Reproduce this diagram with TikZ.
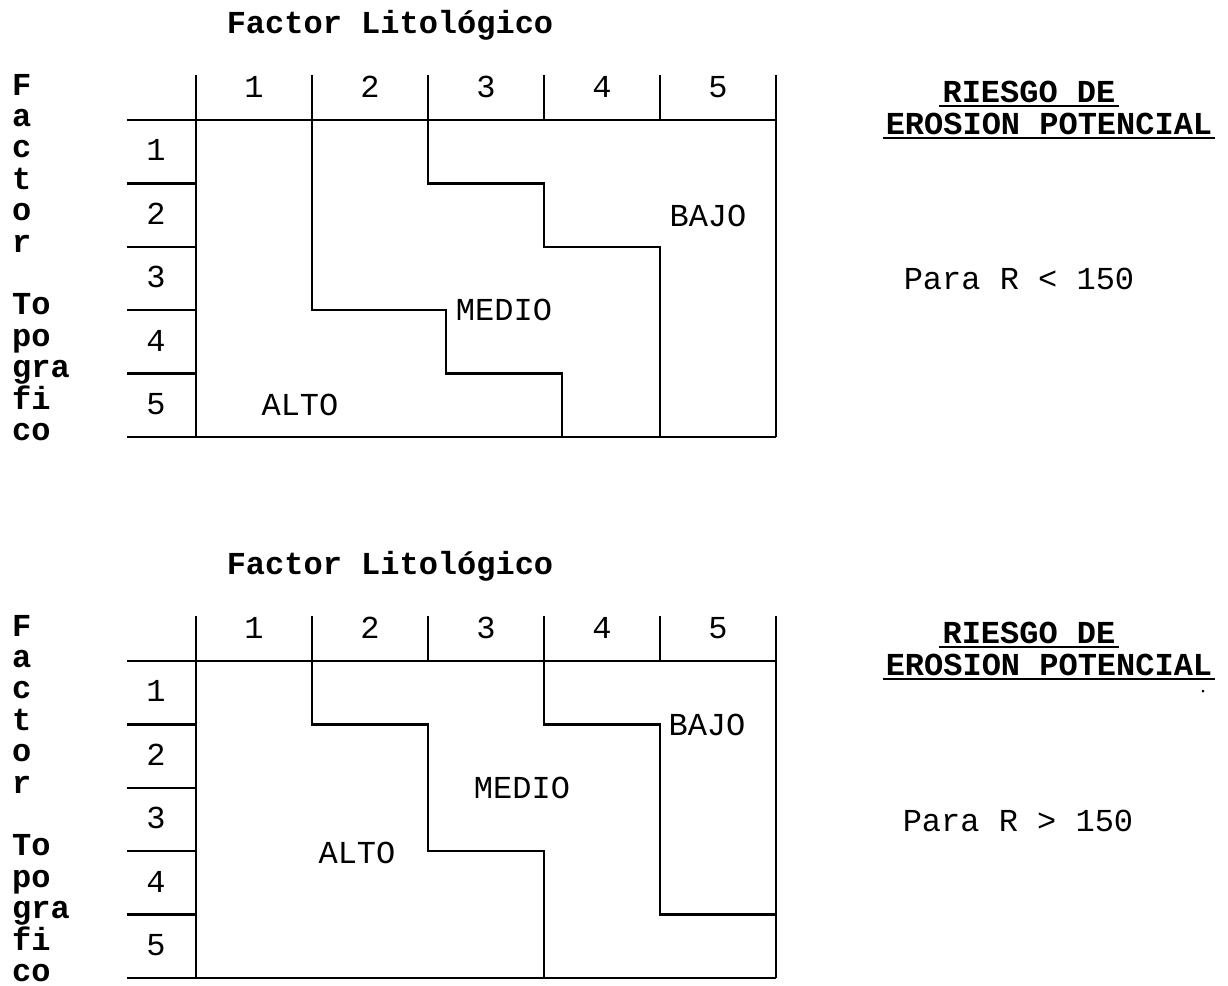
\documentclass[tikz,border=0pt]{standalone}
\usepackage{fontspec}
\setmonofont{Liberation Mono}
\tikzset{
  lab/.style={font=\ttfamily\fontsize{16}{16}\selectfont, inner sep=1pt},
  labb/.style={font=\ttfamily\bfseries\fontsize{16}{16}\selectfont, inner sep=1pt},
}
\begin{document}
\begin{tikzpicture}[x=0.5pt, y=-0.5pt, line width=1.2pt]
  \def\cw{116}   % ancho de columna
  \def\rh{63.4}  % alto de fila
  \def\xl{127}   % inicio de las lineas a la izquierda
  \def\xa{196}   % borde izquierdo de la tabla
  \def\xb{776}   % borde derecho de la tabla
  \useasboundingbox (0,0) rectangle (1228,986);
  % las dos tablas tienen la misma rejilla
  \foreach \dy/\tb in {0/a, 541/b} {
    \begin{scope}[shift={(0,\dy)}]
      \node[labb] (lito\tb) at (390,25) {Factor Litológico};
      \draw (\xa,75) -- (\xa,437);
      \draw (\xb,75) -- (\xb,437);
      \draw (\xl,120) -- (\xb,120);
      \draw (\xl,437) -- (\xb,437);
      \foreach \k in {1,...,4} {
        \draw (\xa+\k*\cw,75) -- (\xa+\k*\cw,120);
        \draw (\xl,120+\k*\rh) -- (\xa,120+\k*\rh);
      }
      \foreach \k in {1,...,5} {
        \node[lab] (col\tb\k) at (\xa+\k*\cw-58,87) {\k};
        \node[lab] (fila\tb\k) at (156,120+\k*\rh-33) {\k};
      }
      % Factor Topografico, en vertical
      \foreach \s/\i in {F/0,a/1,c/2,t/3,o/4,r/5,To/7,po/8,gra/9,fi/10,co/11}
        \node[labb, anchor=base west, inner sep=0pt] (topo\tb\i) at (11,95+\i*31.4) {\s};
      % leyenda de la derecha
      \node[labb] (riesgo\tb) at (1029,91.5) {RIESGO DE};
      \node[labb] (erosion\tb) at (1049,124) {EROSION POTENCIAL};
      \draw[line width=1pt] (riesgo\tb.south west) -- (riesgo\tb.south east);
      \draw[line width=1pt] (erosion\tb.south west) -- (erosion\tb.south east);
    \end{scope}
  }
  % tabla de arriba: R < 150
  \draw (312,120) -- (312,310.2) -- (446,310.2) -- (446,373.6) -- (562,373.6) -- (562,437);
  \draw (428,120) -- (428,183.4) -- (544,183.4) -- (544,246.8) -- (660,246.8) -- (660,437);
  \node[lab] (altoa) at (300,405) {ALTO};
  \node[lab] (medioa) at (504,310) {MEDIO};
  \node[lab] (bajoa) at (708,216) {BAJO};
  \node[lab] (paraa) at (1019,279) {Para R < 150};
  % tabla de abajo: R > 150
  \begin{scope}[shift={(0,541)}]
    \draw (312,120) -- (312,183.4) -- (428,183.4) -- (428,310.2) -- (544,310.2) -- (544,437);
    \draw (544,120) -- (544,183.4) -- (660,183.4) -- (660,373.6) -- (776,373.6);
    \node[lab] (altob) at (357,312) {ALTO};
    \node[lab] (mediob) at (522,247) {MEDIO};
    \node[lab] (bajob) at (707,184) {BAJO};
    \node[lab] (parab) at (1018,280) {Para R > 150};
    \fill (1203,150) circle (1.5);
  \end{scope}
\end{tikzpicture}
\end{document}
